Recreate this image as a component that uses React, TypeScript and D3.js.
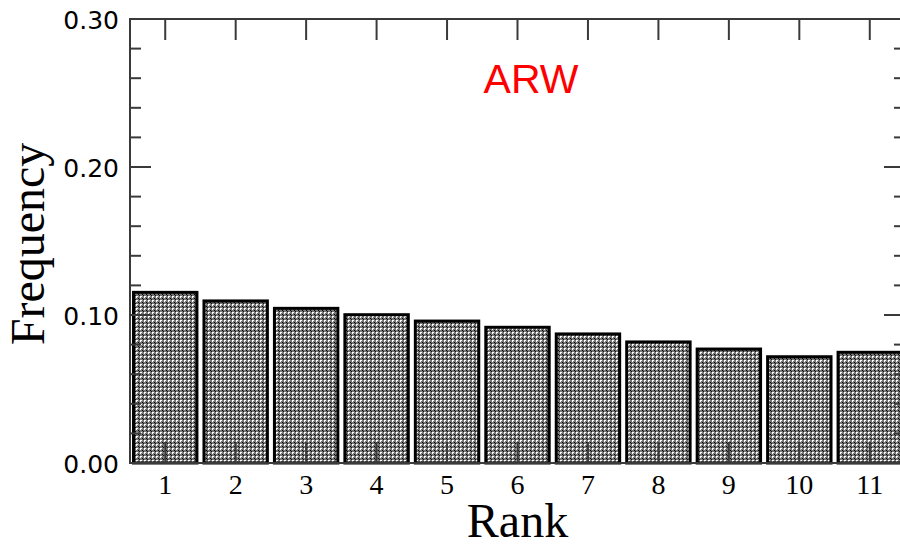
import React from "react";
import * as d3 from "d3";

const ranks = [1, 2, 3, 4, 5, 6, 7, 8, 9, 10, 11];
const frequencies = [0.1153, 0.1095, 0.1045, 0.1002, 0.0959, 0.0917, 0.0872, 0.0818, 0.077, 0.0718, 0.0748];
const yMajorTicks = [0.0, 0.1, 0.2, 0.3];
const yTickLabels = ["0.00", "0.10", "0.20", "0.30"];
const title = "ARW";
const xLabel = "Rank";
const yLabel = "Frequency";

const W = 900;
const H = 545;
const left = 130;
const right = 905;
const top = 19;
const bottom = 463;

export default function App() {
  const x = d3.scaleLinear().domain([0.5, 11.5]).range([left, right]);
  const y = d3.scaleLinear().domain([0, 0.3]).range([bottom, top]);
  const barW = x(0.9) - x(0);
  const yMinor = d3.range(0, 0.3001, 0.02).filter((v) => !yMajorTicks.some((m) => Math.abs(m - v) < 1e-6));
  const axisColor = "#3a3a3a";
  const majorLen = 21;
  const minorLen = 11;

  return (
    <svg width={W} height={H} style={{ position: "absolute", left: 0, top: 0, background: "#fff" }}>
      <defs>
        <pattern id="dots" width={4} height={4} patternUnits="userSpaceOnUse">
          <rect width={4} height={4} fill="#777" />
          <rect x={0} y={0} width={2} height={1} fill="#ffffff" />
          <rect x={0} y={1} width={1} height={1} fill="#ffffff" />
          <rect x={2} y={2} width={1} height={1} fill="#000000" />
          <rect x={3} y={3} width={1} height={1} fill="#111" />
        </pattern>
      </defs>

      {/* bars */}
      {frequencies.map((v, i) => (
        <rect
          key={i}
          x={x(ranks[i]) - barW / 2}
          y={y(v)}
          width={barW}
          height={y(0) - y(v)}
          fill="url(#dots)"
          stroke="#000"
          strokeWidth={3}
        />
      ))}

      {/* frame */}
      <rect x={left} y={top} width={right - left} height={bottom - top} fill="none" stroke={axisColor} strokeWidth={2} />

      {/* x ticks */}
      {ranks.map((r) => (
        <g key={"xt" + r}>
          <line x1={x(r)} x2={x(r)} y1={bottom} y2={bottom - majorLen} stroke={axisColor} strokeWidth={2} />
          <line x1={x(r)} x2={x(r)} y1={top} y2={top + majorLen} stroke={axisColor} strokeWidth={2} />
          <text
            x={x(r)}
            y={494}
            textAnchor="middle"
            fontFamily="'Liberation Serif', 'Times New Roman', serif"
            fontSize={28}
            fill="#000"
          >
            {r}
          </text>
        </g>
      ))}

      {/* y major ticks */}
      {yMajorTicks.map((v, i) => (
        <g key={"ym" + i}>
          <line x1={left} x2={left + majorLen} y1={y(v)} y2={y(v)} stroke={axisColor} strokeWidth={2} />
          <line x1={right} x2={right - majorLen} y1={y(v)} y2={y(v)} stroke={axisColor} strokeWidth={2} />
          <text
            x={119}
            y={y(v) + 9.5}
            textAnchor="end"
            fontFamily="'DejaVu Sans', Verdana, sans-serif"
            fontSize={25}
            fill="#000"
          >
            {yTickLabels[i]}
          </text>
        </g>
      ))}

      {/* y minor ticks */}
      {yMinor.map((v, i) => (
        <g key={"yn" + i}>
          <line x1={left} x2={left + minorLen} y1={y(v)} y2={y(v)} stroke={axisColor} strokeWidth={2} />
          <line x1={right} x2={right - minorLen} y1={y(v)} y2={y(v)} stroke={axisColor} strokeWidth={2} />
        </g>
      ))}

      {/* labels */}
      <text
        x={(left + right) / 2}
        y={537}
        textAnchor="middle"
        fontFamily="'Liberation Serif', 'Times New Roman', serif"
        fontSize={48}
        fill="#000"
      >
        {xLabel}
      </text>
      <text
        transform={`translate(44, ${244}) rotate(-90)`}
        textAnchor="middle"
        fontFamily="'Liberation Serif', 'Times New Roman', serif"
        fontSize={48}
        fill="#000"
      >
        {yLabel}
      </text>
      <text
        x={531}
        y={93}
        textAnchor="middle"
        fontFamily="'Liberation Sans', Arial, sans-serif"
        fontSize={41}
        fill="#ff0000"
      >
        {title}
      </text>
    </svg>
  );
}
